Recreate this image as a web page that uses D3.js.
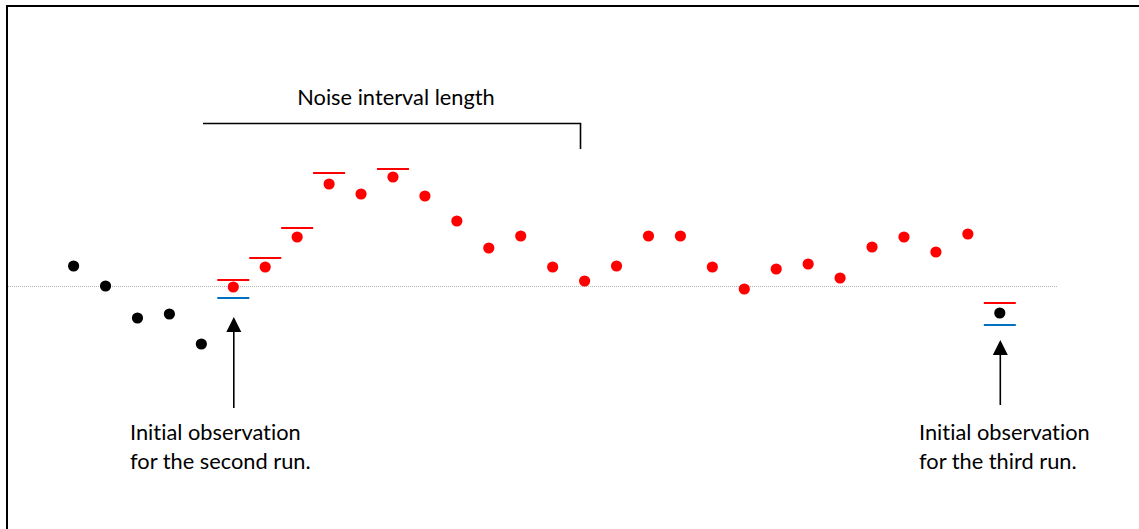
<!DOCTYPE html>
<html>
<head>
<meta charset="utf-8">
<script src="https://cdn.jsdelivr.net/npm/d3@7"></script>
<style>
  body { margin: 0; background: #fff; }
  text { font-family: Lato, "Open Sans", sans-serif; fill: #000; font-variant-ligatures: none; }
</style>
</head>
<body>
<div id="chart"></div>
<script>
// observation index and value (0 = reference level)
const steps = d3.range(30);
const values = [2.0, 0.0, -3.2, -2.8, -5.8, -0.1, 1.9, 4.9, 10.2, 9.2,
                10.9, 9.0, 6.5, 3.8, 5.0, 1.9, 0.5, 2.0, 5.0, 5.0,
                1.9, -0.3, 1.7, 2.2, 0.8, 3.9, 4.9, 3.4, 5.2, -2.7];
// which observations belong to the noise run
const inRun = steps.map(i => i >= 5 && i <= 28);

// upper (red) and lower (blue) limits
const upperSteps = [5, 6, 7, 8, 10, 29];
const upperValues = [0.6, 2.8, 5.8, 11.3, 11.7, -1.7];
const lowerSteps = [5, 29];
const lowerValues = [-1.2, -3.9];

const W = 1139, H = 529;

const svg = d3.select('div#chart')
    .append('svg')
    .attr('width', W)
    .attr('height', H);

const x = d3.scaleLinear().domain([0, 29]).range([73.6, 999.8]);
const y = d3.scaleLinear().domain([-10, 10]).range([386, 186]);

// frame (left and top edges only)
svg.append('line')
    .attr('x1', 7).attr('x2', 7).attr('y1', 5).attr('y2', H)
    .attr('stroke', '#000').attr('stroke-width', 2);
svg.append('line')
    .attr('x1', 6).attr('x2', W).attr('y1', 6).attr('y2', 6)
    .attr('stroke', '#000').attr('stroke-width', 2);

// dotted reference line
svg.append('line')
    .attr('x1', 8).attr('x2', 1058)
    .attr('y1', y(0) + 0.5).attr('y2', y(0) + 0.5)
    .attr('stroke', '#b4b4b4')
    .attr('stroke-width', 1)
    .attr('stroke-dasharray', '1,1');

// limit bars
const halfBar = 16;
svg.selectAll('line.upper')
    .data(upperSteps)
    .enter()
    .append('line')
    .classed('upper', true)
    .attr('x1', d => x(d) - halfBar)
    .attr('x2', d => x(d) + halfBar)
    .attr('y1', (d, i) => y(upperValues[i]))
    .attr('y2', (d, i) => y(upperValues[i]))
    .attr('stroke', '#ff0000')
    .attr('stroke-width', 2);

svg.selectAll('line.lower')
    .data(lowerSteps)
    .enter()
    .append('line')
    .classed('lower', true)
    .attr('x1', d => x(d) - halfBar)
    .attr('x2', d => x(d) + halfBar)
    .attr('y1', (d, i) => y(lowerValues[i]))
    .attr('y2', (d, i) => y(lowerValues[i]))
    .attr('stroke', '#0070c0')
    .attr('stroke-width', 2);

// observations
svg.selectAll('circle')
    .data(steps)
    .enter()
    .append('circle')
    .attr('cx', d => x(d))
    .attr('cy', d => y(values[d]))
    .attr('r', 5.6)
    .style('fill', d => inRun[d] ? '#ff0000' : '#000');

// bracket for the noise interval
svg.append('path')
    .attr('d', 'M203,123.5 H580.5 V149')
    .attr('fill', 'none')
    .attr('stroke', '#000')
    .attr('stroke-width', 1.6);
svg.append('text')
    .attr('x', 396).attr('y', 105)
    .attr('text-anchor', 'middle')
    .style('font-size', '21.8px')
    .text('Noise interval length');

// arrows to the initial observations
const arrows = [
    { i: 5, top: 317, bottom: 408, tx: 130, lines: ['Initial observation', 'for the second run.'] },
    { i: 29, top: 340, bottom: 405, tx: 919, lines: ['Initial observation', 'for the third run.'] }
];

arrows.forEach(a => {
    const ax = x(a.i) + 0.5;
    svg.append('line')
        .attr('x1', ax).attr('x2', ax)
        .attr('y1', a.top + 12).attr('y2', a.bottom)
        .attr('stroke', '#000').attr('stroke-width', 1.6);
    svg.append('path')
        .attr('d', `M${ax},${a.top} L${ax - 7.5},${a.top + 15} L${ax + 7.5},${a.top + 15} Z`)
        .attr('fill', '#000');
    a.lines.forEach((t, k) => {
        svg.append('text')
            .attr('x', a.tx)
            .attr('y', 440 + k * 29)
            .style('font-size', '21.8px')
            .text(t);
    });
});
</script>
</body>
</html>
